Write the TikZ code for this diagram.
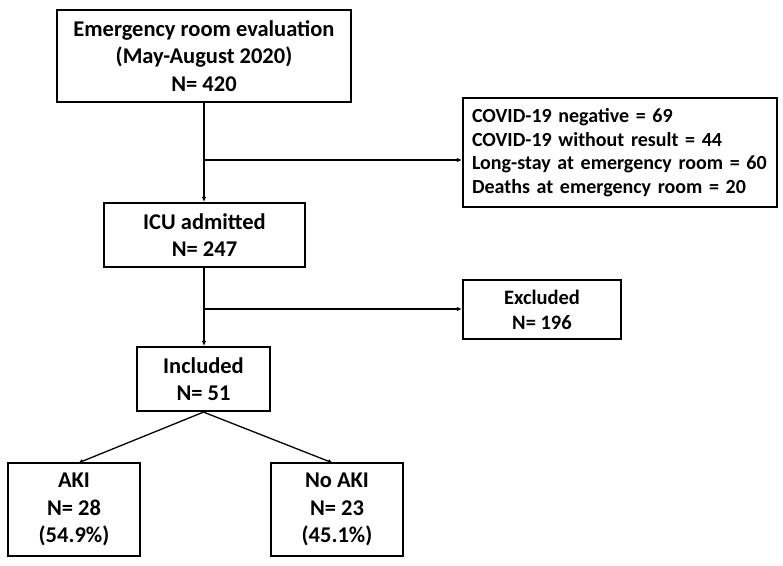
\documentclass[tikz,border=0pt]{standalone}
\usepackage{fontspec}
\setmainfont{Carlito}
\usetikzlibrary{arrows.meta}
\begin{document}
\begin{tikzpicture}[x=1pt,y=-1pt,
  box/.style={draw, line width=2.2pt, inner sep=0pt, align=center,
    font=\bfseries\fontsize{22.5}{27.5}\selectfont},
  conn/.style={line width=1.3pt},
  arr/.style={conn, -{Latex[length=5pt,width=4.5pt]}}]
\useasboundingbox (0,0) rectangle (783,565);
\node[box, minimum width=294pt, minimum height=92pt] (top) at (204,56)
  {Emergency room evaluation\\(May-August 2020)\\N= 420};
\node[box, minimum width=201pt, minimum height=64pt] (icu) at (204.5,235)
  {ICU admitted\\N= 247};
\node[box, minimum width=314pt, minimum height=109pt, align=left, text width=296pt,
  font=\bfseries\fontsize{20}{23.5}\selectfont] (cov) at (620,152.5)
  {COVID-19 negative = 69\\COVID-19 without result = 44\\Long-stay at emergency room = 60\\Deaths at emergency room = 20};
\node[box, minimum width=158pt, minimum height=59pt,
  font=\bfseries\fontsize{20.5}{25}\selectfont] (exc) at (542,309.5)
  {Excluded\\N= 196};
\node[box, minimum width=133pt, minimum height=64pt] (inc) at (203.5,379)
  {Included\\N= 51};
\node[box, minimum width=132pt, minimum height=93pt] (aki) at (74,509.5)
  {AKI\\N= 28\\(54.9\%)};
\node[box, minimum width=132pt, minimum height=93pt] (noaki) at (337,509.5)
  {No AKI\\N= 23\\(45.1\%)};
\coordinate (b1) at (204,160);
\coordinate (b2) at (204,309);
\coordinate (akiin) at (78,463);
\coordinate (noakiin) at (333,463);
\draw[arr] (top.south -| b1) -- (icu.north -| b1);
\draw[arr] (b1) -- (cov.west |- b1);
\draw[arr] (icu.south -| b2) -- (inc.north -| b2);
\draw[arr] (b2) -- (exc.west |- b2);
\draw[arr] (inc.south) -- (akiin);
\draw[arr] (inc.south) -- (noakiin);
\end{tikzpicture}
\end{document}
